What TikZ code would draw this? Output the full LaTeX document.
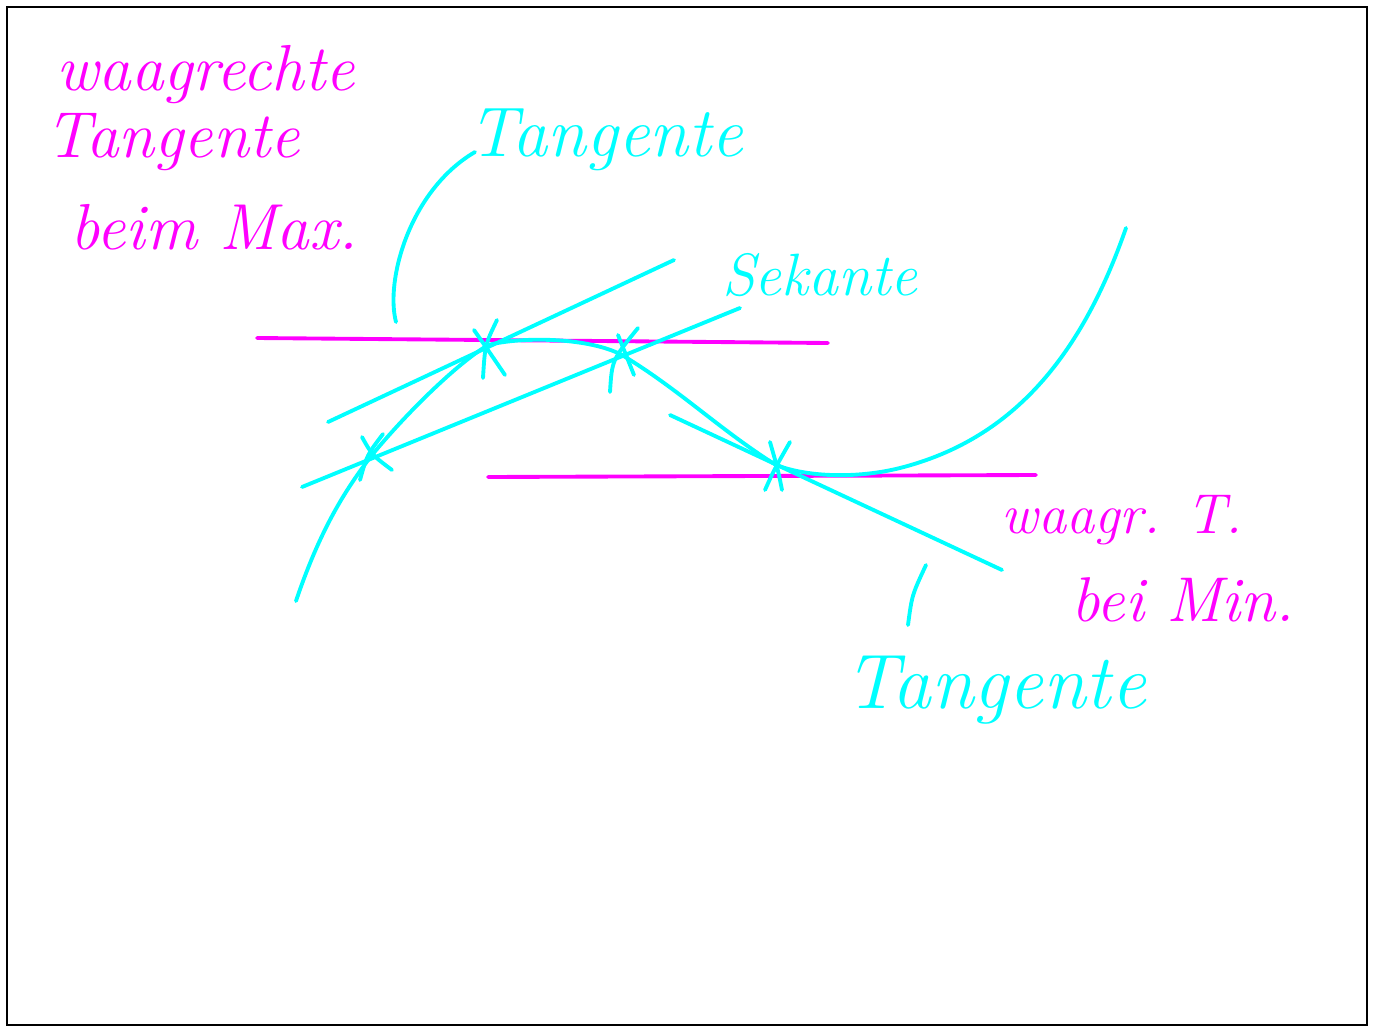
\documentclass[tikz,border=0pt]{standalone}
\usepackage{tikz}
\usetikzlibrary{positioning,calc}
\definecolor{penCyan}{RGB}{0,255,255}
\definecolor{penMagenta}{RGB}{255,0,255}

\begin{document}
\begin{tikzpicture}[x=0.01cm, y=-0.01cm,
    curve/.style={draw=penCyan, line width=1.1pt, line cap=round, line join=round},
    horiz/.style={draw=penMagenta, line width=1.1pt, line cap=round},
    note/.style={penMagenta, font=\fontsize{18.5}{19}\selectfont\itshape, inner sep=0pt},
    label/.style={penCyan, font=\fontsize{20}{24}\selectfont\itshape, inner sep=0pt}
]
\useasboundingbox (0,0) rectangle (1381,1027);
\draw[black, line width=0.5pt] (7,7) rectangle (1367,1025);

% Punkte
\coordinate (Max) at (488,345);
\coordinate (S1) at (372,455);
\coordinate (S2) at (622,355);
\coordinate (Q) at (776,465);

% waagrechte Tangenten
\coordinate (h1a) at (257,338);
\coordinate (h1b) at (828,343);
\coordinate (h2a) at (488,477);
\coordinate (h2b) at (1036,475);
\draw[horiz] (h1a) -- (h1b);
\draw[horiz] (h2a) -- (h2b);

% Graph
\coordinate (g0) at (296,601);
\coordinate (g1) at (1126,228);
\draw[curve] (g0) .. controls (320,530) and (345,490) .. (S1)
    .. controls (405,415) and (455,365) .. (Max)
    .. controls (525,336) and (590,338) .. (S2)
    .. controls (680,390) and (720,430) .. (Q)
    .. controls (810,478) and (860,478) .. (900,468)
    .. controls (1010,440) and (1080,360) .. (g1);

% Tangenten und Sekante
\coordinate (t1a) at (328,422);
\coordinate (t1b) at (674,260);
\coordinate (sa) at (302,487);
\coordinate (sb) at (740,308);
\coordinate (t2a) at (670,415);
\coordinate (t2b) at (1002,570);
\draw[curve] (t1a) -- (t1b);
\draw[curve] (sa) -- (sb);
\draw[curve] (t2a) -- (t2b);

% Kreuze
\draw[curve] ($(Max)+(-14,-15)$) .. controls ($(Max)+(0,5)$) .. ($(Max)+(17,30)$);
\draw[curve] ($(Max)+(9,-25)$) .. controls ($(Max)+(-3,0)$) .. ($(Max)+(-5,33)$);
\draw[curve] ($(S2)+(-4,-20)$) .. controls ($(S2)+(6,5)$) .. ($(S2)+(12,20)$);
\draw[curve] ($(S2)+(16,-27)$) .. controls ($(S2)+(-10,5)$) .. ($(S2)+(-12,37)$);
\draw[curve] ($(S1)+(-10,-18)$) .. controls ($(S1)+(0,0)$) .. ($(S1)+(20,15)$);
\draw[curve] ($(S1)+(11,-21)$) .. controls ($(S1)+(-5,0)$) .. ($(S1)+(-12,25)$);
\draw[curve] ($(Q)+(-6,-23)$) .. controls ($(Q)+(2,5)$) .. ($(Q)+(6,25)$);
\draw[curve] ($(Q)+(14,-23)$) .. controls ($(Q)+(-2,5)$) .. ($(Q)+(-11,25)$);

% Beschriftungen
\node[note, anchor=north west, align=left] (maxtext) at (45,45)
    {\hspace*{3pt}waagrechte\\Tangente\\[7pt]\hspace*{7pt}beim Max.};
\node[label] (tang1) at (606,140) {Tangente};
\node[label, font=\fontsize{17}{20}\selectfont\itshape] (sek) at (820,275) {Sekante};
\node[note, font=\fontsize{16}{20}\selectfont\itshape] (mintext1) at (1122,520) {waagr. T.};
\node[note, font=\fontsize{18}{20}\selectfont\itshape] (mintext2) at (1183,600) {bei Min.};
\node[label, font=\fontsize{22}{26}\selectfont\itshape] (tang2) at (995,690) {Tangente};

% Hinweislinien
\coordinate (l1s) at (475,152);
\coordinate (l1) at (396,322);
\coordinate (l2s) at (926,565);
\coordinate (l2) at (908,625);
\draw[curve] (l1s) .. controls (410,190) and (385,280) .. (l1);
\draw[curve] (l2s) .. controls (912,595) .. (l2);
\end{tikzpicture}
\end{document}
